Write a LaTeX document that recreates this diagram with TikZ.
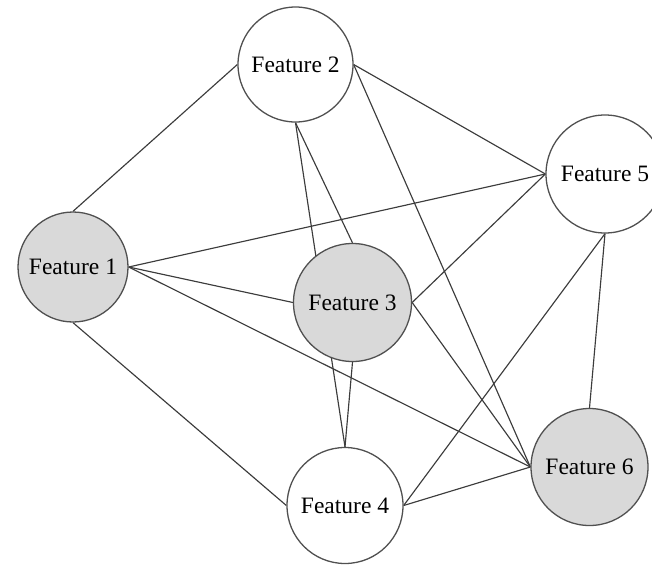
\documentclass[tikz,border=0pt]{standalone}
\usepackage{fontspec}
\setmainfont{Liberation Serif}
\usetikzlibrary{backgrounds}
\definecolor{edgecol}{HTML}{3C3C3C}
\definecolor{rimcol}{HTML}{505050}
\definecolor{grayfill}{HTML}{D9D9D9}
\begin{document}
\begin{tikzpicture}[x=1pt,y=-1pt,
  feat/.style={circle,draw=rimcol,line width=1.3pt,inner sep=0pt,
    font=\fontsize{23.5}{28}\selectfont,text=black},
  whitefeat/.style={feat,fill=white},
  grayfeat/.style={feat,fill=grayfill},
  link/.style={draw=edgecol,line width=1.15pt}]
\useasboundingbox (0,0) rectangle (652,565);
\clip (0,0) rectangle (652,565);
\node[grayfeat,minimum size=110pt] (f1) at (73,267) {Feature 1};
\node[whitefeat,minimum size=115pt] (f2) at (295.5,64.5) {Feature 2};
\node[grayfeat,minimum size=118pt] (f3) at (352.5,302.5) {Feature 3};
\node[whitefeat,minimum size=116pt] (f4) at (345,505.5) {Feature 4};
\node[whitefeat,minimum size=118pt] (f5) at (605,174) {Feature 5};
\node[grayfeat,minimum size=117pt] (f6) at (589.5,467) {Feature 6};
\begin{pgfonlayer}{background}
\draw[link] (f1.north) -- (f2.west);
\draw[link] (f1.east) -- (f5.west);
\draw[link] (f1.east) -- (f3.west);
\draw[link] (f1.east) -- (f6.west);
\draw[link] (f1.south) -- (f4.west);
\draw[link] (f2.south) -- (f3.north);
\draw[link] (f2.south) -- (f4.north);
\draw[link] (f2.east) -- (f5.west);
\draw[link] (f2.east) -- (f6.west);
\draw[link] (f3.east) -- (f5.west);
\draw[link] (f3.east) -- (f6.west);
\draw[link] (f3.south) -- (f4.north);
\draw[link] (f4.east) -- (f5.south);
\draw[link] (f4.east) -- (f6.west);
\draw[link] (f5.south) -- (f6.north);
\end{pgfonlayer}
\end{tikzpicture}
\end{document}
